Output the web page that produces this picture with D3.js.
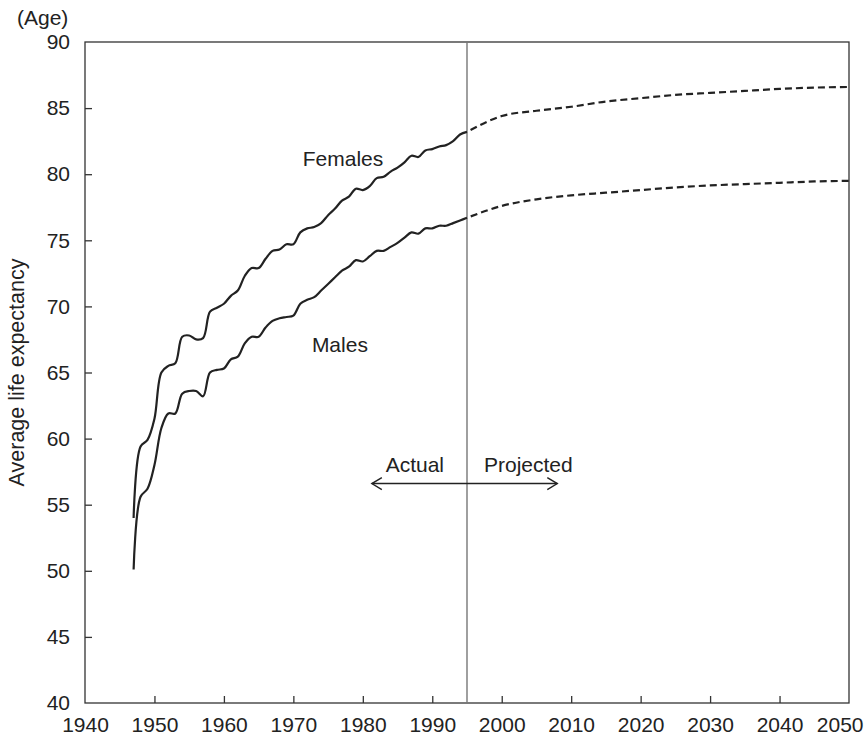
<!DOCTYPE html>
<html>
<head>
<meta charset="utf-8">
<script src="https://cdn.jsdelivr.net/npm/d3@7"></script>
<style>
  html, body { margin: 0; padding: 0; background: #fff; }
  svg text { font-family: "Liberation Sans", Arial, Helvetica, sans-serif; fill: #222; }
</style>
</head>
<body>
<svg id="chart" width="868" height="737"></svg>
<script>
// ---- data ----
const actualYears = [1947,1948,1949,1950,1951,1952,1953,1954,1955,1956,1957,1958,1959,1960,
  1961,1962,1963,1964,1965,1966,1967,1968,1969,1970,1971,1972,1973,1974,1975,1976,1977,1978,
  1979,1980,1981,1982,1983,1984,1985,1986,1987,1988,1989,1990,1991,1992,1993,1994,1995];
const femalesActual = [54.0,59.4,59.9,61.5,65.0,65.5,65.7,67.7,67.8,67.5,67.6,69.6,69.9,70.2,
  70.8,71.2,72.3,72.9,72.9,73.6,74.2,74.3,74.7,74.7,75.6,75.9,76.0,76.3,76.9,77.4,78.0,78.3,
  78.9,78.8,79.1,79.7,79.8,80.2,80.5,80.9,81.4,81.3,81.8,81.9,82.1,82.2,82.5,83.0,83.2];
const malesActual = [50.1,55.6,56.2,58.0,60.8,61.9,61.9,63.4,63.6,63.6,63.2,65.0,65.2,65.3,
  66.0,66.2,67.2,67.7,67.7,68.4,68.9,69.1,69.2,69.3,70.2,70.5,70.7,71.2,71.7,72.2,72.7,73.0,
  73.5,73.4,73.8,74.2,74.2,74.5,74.8,75.2,75.6,75.5,75.9,75.9,76.1,76.1,76.3,76.5,76.7];
const projYears = [1995,2000,2005,2010,2015,2020,2025,2030,2035,2040,2045,2050];
const femalesProj = [83.2,84.4,84.8,85.1,85.5,85.75,86.0,86.15,86.3,86.45,86.55,86.6];
const malesProj = [76.7,77.6,78.1,78.4,78.6,78.8,79.0,79.15,79.25,79.35,79.45,79.5];
const xTicks = [1940,1950,1960,1970,1980,1990,2000,2010,2020,2030,2040,2050];
const yTicks = [40,45,50,55,60,65,70,75,80,85,90];
const divideYear = 1995;
const labels = [
  {text: "Females", year: 1977.15, value: 80.6},
  {text: "Males", year: 1976.7, value: 66.55}
];
const arrowFrom = 1981.3, arrowTo = 2008, arrowValue = 56.6;

// ---- layout ----
const svg = d3.select("#chart");
const L = 85, R = 849, T = 42, B = 703;
const x = d3.scaleLinear().domain([1940, 2050]).range([L, R]);
const y = d3.scaleLinear().domain([40, 90]).range([B, T]);
const ink = "#222";
const FS = 21;

// frame
svg.append("rect").attr("x", L).attr("y", T).attr("width", R - L).attr("height", B - T)
  .attr("fill", "none").attr("stroke", "#333").attr("stroke-width", 1.3);

// axes
const yAxis = d3.axisLeft(y).tickValues(yTicks).tickSize(-7).tickPadding(15).tickFormat(d3.format("d"));
const gy = svg.append("g").attr("transform", `translate(${L},0)`).call(yAxis);
const xAxis = d3.axisBottom(x).tickValues(xTicks).tickSize(-7).tickPadding(14).tickFormat(d3.format("d"));
const gx = svg.append("g").attr("transform", `translate(0,${B})`).call(xAxis);
[gx, gy].forEach(g => {
  g.select(".domain").remove();
  g.selectAll(".tick line").attr("stroke", "#333").attr("stroke-width", 1.3);
  g.selectAll(".tick text").attr("font-size", FS).attr("fill", ink)
    .style("font-family", '"Liberation Sans", Arial, sans-serif');
});
gy.selectAll(".tick").filter(d => d === 40 || d === 90).select("line").remove();
gx.selectAll(".tick").filter(d => d === 1940 || d === 2050).select("line").remove();
// keep last x label inside the picture
gx.selectAll(".tick").filter(d => d === 2050).select("text")
  .attr("text-anchor", "end").attr("x", 14);

// axis titles
svg.append("text").attr("x", 17).attr("y", 25).attr("font-size", FS).text("(Age)");
svg.append("text").attr("transform", `translate(24,${(T + B) / 2}) rotate(-90)`)
  .attr("text-anchor", "middle").attr("font-size", 21.5).text("Average life expectancy");

// divider
svg.append("line").attr("x1", x(divideYear)).attr("x2", x(divideYear))
  .attr("y1", T).attr("y2", B).attr("stroke", "#777").attr("stroke-width", 1.4);

// lines
const line = d3.line().x(d => x(d[0])).y(d => y(d[1])).curve(d3.curveCatmullRom.alpha(0.5));
const lineP = d3.line().x(d => x(d[0])).y(d => y(d[1])).curve(d3.curveMonotoneX);
[femalesActual, malesActual].forEach(vals => {
  svg.append("path").datum(actualYears.map((yr, i) => [yr, vals[i]]))
    .attr("d", line).attr("fill", "none").attr("stroke", ink).attr("stroke-width", 2.2);
});
[femalesProj, malesProj].forEach(vals => {
  svg.append("path").datum(projYears.map((yr, i) => [yr, vals[i]]))
    .attr("d", lineP).attr("fill", "none").attr("stroke", ink).attr("stroke-width", 2.2)
    .attr("stroke-dasharray", "7,4").attr("stroke-dashoffset", -4);
});

// series labels
labels.forEach(l => {
  svg.append("text").attr("x", x(l.year)).attr("y", y(l.value))
    .attr("text-anchor", "middle").attr("font-size", FS).text(l.text);
});

// actual / projected arrow
const ay = y(arrowValue);
const x1 = x(arrowFrom), x2 = x(arrowTo);
svg.append("line").attr("x1", x1).attr("x2", x2).attr("y1", ay).attr("y2", ay)
  .attr("stroke", ink).attr("stroke-width", 1.4);
svg.append("path").attr("d", `M${x1 + 10},${ay - 6} L${x1},${ay} L${x1 + 10},${ay + 6}`)
  .attr("fill", "none").attr("stroke", ink).attr("stroke-width", 1.4);
svg.append("path").attr("d", `M${x2 - 10},${ay - 6} L${x2},${ay} L${x2 - 10},${ay + 6}`)
  .attr("fill", "none").attr("stroke", ink).attr("stroke-width", 1.4);
svg.append("text").attr("x", x(divideYear) - 23).attr("y", ay - 12)
  .attr("text-anchor", "end").attr("font-size", FS).text("Actual");
svg.append("text").attr("x", x(divideYear) + 17).attr("y", ay - 12)
  .attr("text-anchor", "start").attr("font-size", FS).text("Projected");
</script>
</body>
</html>
